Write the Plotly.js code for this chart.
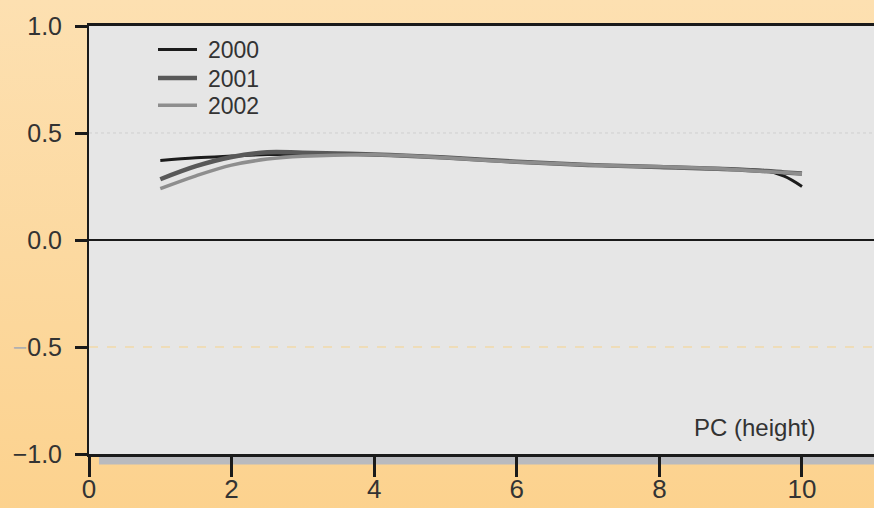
<!DOCTYPE html>
<html>
<head>
<meta charset="utf-8">
<script src="https://cdn.plot.ly/plotly-3.0.1.min.js"></script>
<style>
html,body{margin:0;padding:0;}
body{width:874px;height:508px;background:linear-gradient(180deg,#fde0b1 0%,#fcd9a0 50%,#fcd28e 100%);overflow:hidden;}
#chart{width:874px;height:508px;}
</style>
</head>
<body>
<div id="chart"></div>
<script>
// Data
const seriesNames = ["2000", "2001", "2002"];
const xValues = [1, 1.5, 2, 2.5, 3, 4, 5, 6, 7, 8, 9, 9.5, 9.75, 10];
const y2000 = [0.372, 0.384, 0.392, 0.399, 0.402, 0.398, 0.385, 0.366, 0.351, 0.341, 0.331, 0.323, 0.298, 0.250];
const y2001 = [0.284, 0.345, 0.388, 0.410, 0.408, 0.400, 0.386, 0.366, 0.351, 0.341, 0.331, 0.322, 0.316, 0.311];
const y2002 = [0.240, 0.300, 0.350, 0.378, 0.391, 0.398, 0.384, 0.364, 0.350, 0.342, 0.330, 0.320, 0.315, 0.309];
const yTickVals = [-1, -0.5, 0, 0.5, 1];
const yTickText = ["\u22121.0", "<span style='color:#b0b0b0'>\u2212</span>0.5", "0.0", "0.5", "1.0"];
const xTickVals = [0, 2, 4, 6, 8, 10];
const xTickText = ["0", "2", "4", "6", "8", "10"];
const xTitle = "PC (height)";

const font = "Liberation Sans, Arial, sans-serif";
const colors = ["#1c1c1c", "#595959", "#8e8e8e"];
const widths = [3, 4.5, 3.5];
const ys = [y2000, y2001, y2002];

const traces = seriesNames.map((n, i) => ({
  x: xValues, y: ys[i], name: n, type: "scatter", mode: "lines", showlegend: false,
  line: {color: colors[i], width: widths[i], shape: "spline", smoothing: 1}
}));

// Legend drawn in paper coordinates (plot area: x 89..874, y 25.5..454.5)
const plotL = 89, plotW = 785, plotT = 25.5, plotH = 429;
const px = v => (v - plotL) / plotW;
const py = v => 1 - (v - plotT) / plotH;
const legendRowsY = [49, 77.5, 105];
const legendShapes = seriesNames.map((n, i) => ({
  type: "line", xref: "paper", yref: "paper",
  x0: px(158), x1: px(197), y0: py(legendRowsY[i]), y1: py(legendRowsY[i]),
  line: {color: colors[i], width: widths[i]}
}));
const legendText = seriesNames.map((n, i) => ({
  xref: "paper", yref: "paper", x: px(206), y: py(legendRowsY[i] + 1),
  xanchor: "left", yanchor: "middle", text: n, showarrow: false,
  font: {family: font, size: 23, color: "#333"}
}));

const layout = {
  width: 874, height: 508,
  margin: {l: 89, r: 0, t: 25.5, b: 53.5, pad: 0},
  paper_bgcolor: "rgba(0,0,0,0)",
  plot_bgcolor: "#e6e6e6",
  font: {family: font, size: 21, color: "#333"},
  showlegend: false,
  xaxis: {range: [0, 11.01], tickvals: xTickVals, ticktext: xTickText, showgrid: false, zeroline: false,
          showline: true, linecolor: "#1a1a1a", linewidth: 3, mirror: true,
          ticks: "outside", ticklen: 20, tickwidth: 3, tickcolor: "#1a1a1a",
          ticklabelstandoff: -10,
          tickfont: {family: font, size: 26, color: "#333"}},
  yaxis: {range: [-1, 1], tickvals: yTickVals, ticktext: yTickText, showgrid: false,
          zeroline: true, zerolinecolor: "#1a1a1a", zerolinewidth: 2,
          showline: true, linecolor: "#1a1a1a", linewidth: 2,
          ticks: "outside", ticklen: 12, tickwidth: 3, tickcolor: "#1a1a1a",
          ticklabelstandoff: 8,
          tickfont: {family: font, size: 25, color: "#333"}},
  shapes: [
    {type: "line", xref: "paper", x0: 0, x1: 1, yref: "y", y0: 0.5, y1: 0.5, layer: "below",
     line: {color: "#cfcfcf", width: 1, dash: "dot"}},
    {type: "line", xref: "paper", x0: 0, x1: 1, yref: "y", y0: -0.5, y1: -0.5, layer: "below",
     line: {color: "#f7d38a", width: 1, dash: "dash"}},
    {type: "rect", xref: "paper", x0: 0.0127, x1: 1, yref: "paper", y0: -0.0245, y1: -0.002, layer: "below",
     fillcolor: "#b9babe", line: {width: 0}}
  ].concat(legendShapes),
  annotations: [
    {x: 9.33, y: -0.878, xref: "x", yref: "y", text: xTitle, showarrow: false,
     font: {family: font, size: 24, color: "#333"}}
  ].concat(legendText)
};

Plotly.newPlot("chart", traces, layout, {staticPlot: true, displayModeBar: false});
</script>
</body>
</html>
